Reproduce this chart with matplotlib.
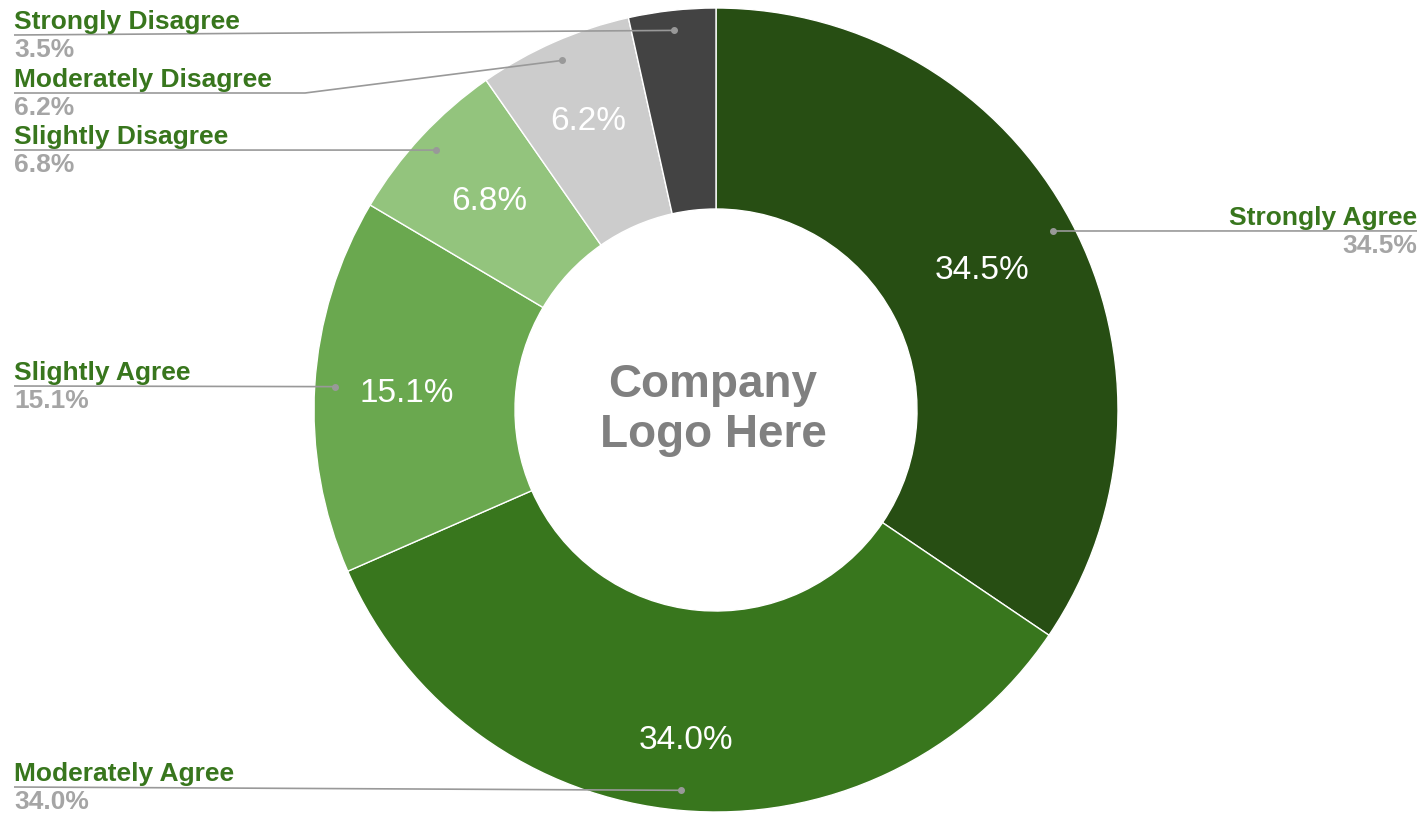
import numpy as np
from matplotlib import pyplot as plt

W, H = 1422, 816

labels = ['Strongly Agree', 'Moderately Agree', 'Slightly Agree',
          'Slightly Disagree', 'Moderately Disagree', 'Strongly Disagree']
values = [34.5, 34.0, 15.1, 6.8, 6.2, 3.5]
colors = ['#274e13', '#38761d', '#6aa84f', '#93c47d', '#cccccc', '#434343']

# callout layout in image pixels: line height, knee x, side
label_y = [231, 787, 386, 150, 93, 35]
knee_x = [1053, 14, 14, 14, 305, 14]
side = ['right', 'left', 'left', 'left', 'left', 'left']
# radial position of the in-slice percentages (fraction of radius)
pct_r = [0.75, 0.82, 0.77, 0.77, 0.79, 0.75]

plt.rcParams['font.family'] = ['Liberation Sans', 'DejaVu Sans']

fig = plt.figure(figsize=(W / 100, H / 100), dpi=100)
ax = fig.add_axes([0, 0, 1, 1])

cx, cy, R = 716, H - 410, 402


def fmt(p):
    return f'{p:.1f}%' if p > 5 else ''


wedges, _, autotexts = ax.pie(values, colors=colors, center=(cx, cy), radius=R,
                              startangle=90, counterclock=False,
                              autopct=fmt, pctdistance=0.75,
                              wedgeprops=dict(width=R / 2, edgecolor='white', linewidth=1),
                              textprops=dict(color='white', fontsize=24))

ax.set_xlim(0, W)
ax.set_ylim(0, H)
ax.set_aspect('equal')
ax.axis('off')

ax.text(cx - 3, cy, 'Company\nLogo Here', ha='center', va='center',
        fontsize=33, fontweight='bold', color='#808080', linespacing=1.2)

line_c = '#999999'
for w, t, pr, name, v, ly, kx, s in zip(wedges, autotexts, pct_r, labels, values,
                                         label_y, knee_x, side):
    a = np.deg2rad((w.theta1 + w.theta2) / 2)
    t.set_position((cx + pr * R * np.cos(a), cy + pr * R * np.sin(a) - 2))
    dx, dy = cx + 0.95 * R * np.cos(a), cy + 0.95 * R * np.sin(a)
    ly = H - ly
    if s == 'left':
        xs, xt, ha = [14, kx, dx], 14, 'left'
    else:
        xs, xt, ha = [dx, dx, 1417], 1417, 'right'
    ax.plot(xs, [ly, ly, dy], color=line_c, lw=1.2, solid_capstyle='butt')
    ax.plot(dx, dy, 'o', color=line_c, ms=4)
    ax.text(xt, ly + 6, name, ha=ha, va='baseline', fontsize=19,
            fontweight='bold', color='#38761d')
    ax.text(xt, ly - 22, f'{v:.1f}%', ha=ha, va='baseline', fontsize=19,
            fontweight='bold', color='#a5a5a5')

fig.savefig('out.png', dpi=100)
